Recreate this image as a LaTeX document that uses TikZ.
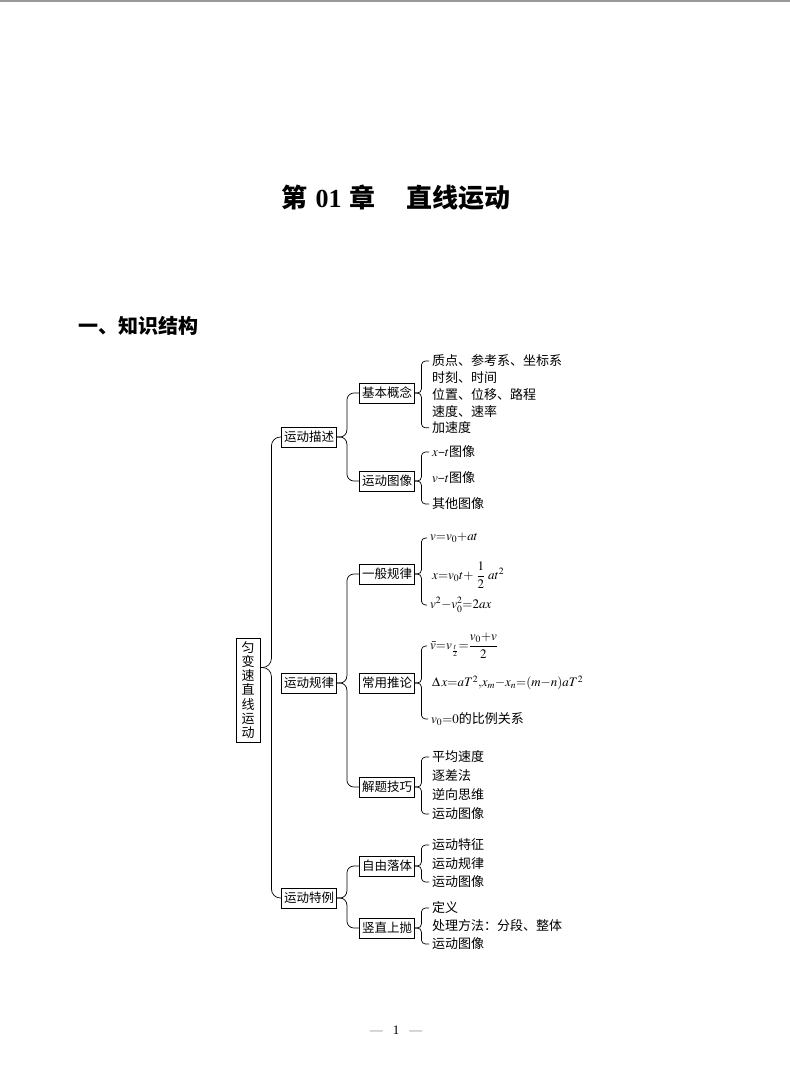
\documentclass[tikz,border=0pt]{standalone}
\usepackage{amsmath}
\usepackage{mathptmx}
\usepackage{fontspec}
\setmainfont{Liberation Serif}
\newfontfamily\cjk{Noto Sans CJK SC}
\usetikzlibrary{positioning, calc}

\begin{document}
\begin{tikzpicture}[
    x=1pt, y=-1pt,
    box/.style={draw, line width=0.8pt, minimum width=55pt, minimum height=20pt,
                inner sep=2pt, font=\fontsize{12.5}{14}\selectfont\cjk},
    leaf/.style={anchor=west, inner xsep=3pt, inner ysep=0.5pt, font=\fontsize{13}{15}\selectfont\cjk},
    brc/.style={draw, line width=0.7pt, rounded corners=7pt},
    leafbrc/.style={draw, line width=0.7pt, rounded corners=4pt},
    head/.style={inner sep=0pt, font=\cjk\bfseries}
]
  \useasboundingbox (0,0) rectangle (790,1072);
  \draw[gray!80, line width=1.5pt] (0,0.75) -- (790,0.75);

  % Headings
  \node[head, font=\fontsize{26}{30}\selectfont\cjk\bfseries] (title) at (396,198)
    {第\hspace{8pt}{\rmfamily 01}\hspace{8pt}章\hspace{31pt}直线运动};
  \node[head, anchor=west, font=\fontsize{20}{24}\selectfont\cjk\bfseries] (sec) at (78,326) {一、知识结构};

  % Root and main topics
  \node[box, minimum width=24pt, inner ysep=3.5pt,
        font=\fontsize{13}{14.2}\selectfont\cjk, align=center] (root) at (248,690)
    {匀\\变\\速\\直\\线\\运\\动};
  \node[box] (ms) at (309,437) {运动描述};
  \node[box] (gl) at (309,683) {运动规律};
  \node[box] (tl) at (309,898) {运动特例};

  % Sub topics
  \node[box] (jb) at (387,393) {基本概念};
  \node[box] (tx) at (387,481) {运动图像};
  \node[box] (yb) at (387,574) {一般规律};
  \node[box] (cy) at (387,683) {常用推论};
  \node[box] (jt) at (387,787) {解题技巧};
  \node[box] (zy) at (387,866) {自由落体};
  \node[box] (sz) at (387,928) {竖直上抛};

  % Leaves
  \foreach \t [count=\i] in {质点、参考系、坐标系, 时刻、时间, 位置、位移、路程, 速度、速率, 加速度}{
    \node[leaf] (jb\i) at (429,{361+16.7*(\i-1)}) {\t};
  }
  \node[leaf] (tx1) at (429,452) {$x$–$t$图像};
  \node[leaf] (tx2) at (429,478) {$v$–$t$图像};
  \node[leaf] (tx3) at (429,504) {其他图像};

  \node[leaf] (yb1) at (427,538) {$v{=}v_0{+}at$};
  \node[leaf] (yb2) at (429,575) {$x{=}v_0t{+}\;\dfrac{1}{2}\;at^2$};
  \node[leaf] (yb3) at (427,605) {$v^2{-}v_0^2{=}2ax$};

  \node[leaf] (cy1) at (427,646) {$\bar v{=}v_{\frac{t}{2}}{=}\dfrac{v_0{+}v}{2}$};
  \node[leaf] (cy2) at (429,683) {$\Delta\,x{=}aT^2{,}x_m{-}x_n{=}(m{-}n)aT^2$};
  \node[leaf] (cy3) at (428,719) {$v_0{=}0$的比例关系};

  \foreach \t [count=\i] in {平均速度, 逐差法, 逆向思维, 运动图像}{
    \node[leaf] (jt\i) at (429,{757+19*(\i-1)}) {\t};
  }
  \foreach \t [count=\i] in {运动特征, 运动规律, 运动图像}{
    \node[leaf] (zy\i) at (429,{845+18.5*(\i-1)}) {\t};
  }
  \foreach \t [count=\i] in {定义, 处理方法：分段、整体, 运动图像}{
    \node[leaf] (sz\i) at (429,{908+18*(\i-1)}) {\t};
  }

  % Braces
  \coordinate (rmid) at ($(ms.west)!0.5!(tl.west)$);
  \coordinate (rc) at (root.east |- rmid);
  \draw[brc, rounded corners=9pt] (rc) -- ++(11,0) |- (ms.west);
  \draw[brc, rounded corners=9pt] (rc) -- ++(11,0) |- (tl.west);

  \foreach \p/\t/\b in {ms/jb/tx, gl/yb/jt, tl/zy/sz}{
    \draw[brc] (\p.east) -- ++(10,0) |- (\t.west);
    \draw[brc] (\p.east) -- ++(10,0) |- (\b.west);
  }

  \foreach \p/\t/\b in {jb/jb1/jb5, tx/tx1/tx3, yb/yb1/yb3, cy/cy1/cy3, jt/jt1/jt4, zy/zy1/zy3, sz/sz1/sz3}{
    \draw[leafbrc] (\p.east) -- ++(6.5,0) |- (\t.west);
    \draw[leafbrc] (\p.east) -- ++(6.5,0) |- (\b.west);
  }

  % Page number
  \node[font=\fontsize{13}{15}\selectfont] (pg) at (396,1030)
    {\textcolor{gray}{—}\hspace{10pt}1\hspace{10pt}\textcolor{gray}{—}};
\end{tikzpicture}
\end{document}
